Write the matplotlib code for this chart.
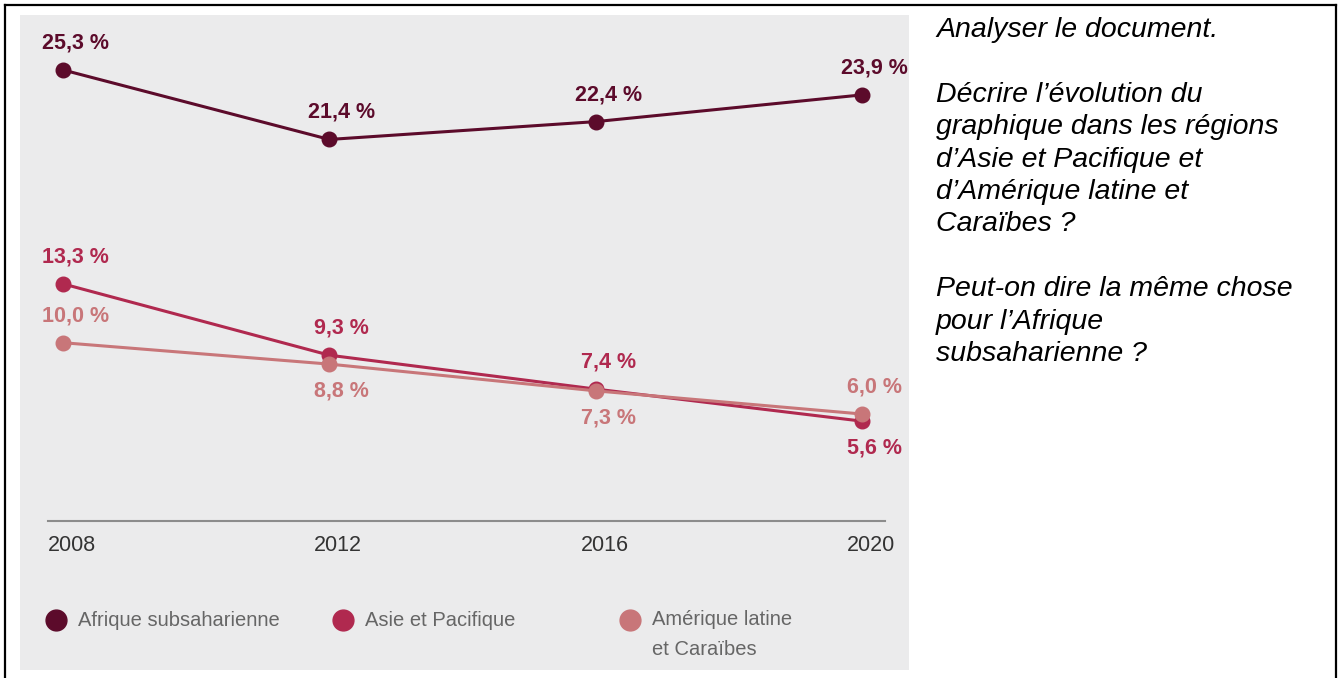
import matplotlib.pyplot as plt
from matplotlib.lines import Line2D
from matplotlib.patches import Rectangle
from matplotlib.transforms import ScaledTranslation

plt.rcParams['font.family'] = ['Liberation Sans', 'DejaVu Sans']

years = [2008, 2012, 2016, 2020]
afrique = [25.3, 21.4, 22.4, 23.9]
asie = [13.3, 9.3, 7.4, 5.6]
amerique = [10.0, 8.8, 7.3, 6.0]
# label above (+1) or below (-1) the point
afrique_pos = [1, 1, 1, 1]
asie_pos = [1, 1, 1, -1]
amerique_pos = [1, -1, -1, 1]
names = ["Afrique subsaharienne", "Asie et Pacifique", "Amérique latine\net Caraïbes"]
colors = ["#5c0b2b", "#b0294f", "#c87679"]

question = ("Analyser le document.\n\n"
            "Décrire l\u2019évolution du\n"
            "graphique dans les régions\n"
            "d\u2019Asie et Pacifique et\n"
            "d\u2019Amérique latine et\n"
            "Caraïbes ?\n\n"
            "Peut-on dire la même chose\n"
            "pour l\u2019Afrique\n"
            "subsaharienne ?")

W, H = 1338, 678
fig = plt.figure(figsize=(W / 100, H / 100), dpi=100)
fig.patch.set_facecolor("white")

# grey panel behind the chart
fig.add_artist(Rectangle((20 / W, 1 - 670 / H), 889 / W, 655 / H,
                         transform=fig.transFigure, facecolor="#ebebec",
                         edgecolor="none", zorder=0))

# black frame (top, left, right)
for xs, ys in [([5 / W, 1336 / W], [1 - 5 / H, 1 - 5 / H]),
               ([5 / W, 5 / W], [0, 1 - 5 / H]),
               ([1336 / W, 1336 / W], [0, 1 - 5 / H])]:
    fig.add_artist(Line2D(xs, ys, transform=fig.transFigure, color="black", lw=1.6))

ax = fig.add_axes([48 / W, 1 - 521 / H, (885 - 48) / W, (521 - 20) / H])
ax.set_facecolor("none")

series = [(afrique, afrique_pos, colors[0]),
          (asie, asie_pos, colors[1]),
          (amerique, amerique_pos, colors[2])]
for vals, pos, c in series:
    ax.plot(years, vals, color=c, lw=2.2, marker="o", markersize=10.5, zorder=3)
    for x, v, p in zip(years, vals, pos):
        ax.annotate(f"{v:.1f} %".replace(".", ","), (x, v), xytext=(9, 19.5 * p),
                    textcoords="offset points", ha="center", va="center",
                    color=c, fontsize=15.5, fontweight="bold")

ax.set_xlim(2007.775, 2020.345)
ax.set_ylim(0, 28.1)
ax.set_yticks([])
ax.set_xticks(years)
ax.set_xticklabels([str(y) for y in years])
ax.tick_params(axis="x", length=0, pad=10, labelsize=15.5, labelcolor="#333333")
for lbl in ax.get_xticklabels():
    lbl.set_transform(lbl.get_transform() + ScaledTranslation(0.09, 0, fig.dpi_scale_trans))
for s in ["top", "left", "right"]:
    ax.spines[s].set_visible(False)
ax.spines["bottom"].set_color("#8c8c8c")
ax.spines["bottom"].set_linewidth(1.5)

# legend drawn by hand
leg_x = [56, 343, 630]
for name, c, lx in zip(names, colors, leg_x):
    fig.add_artist(Line2D([lx / W], [1 - 620 / H], transform=fig.transFigure,
                          marker="o", markersize=15, color=c, lw=0))
    if "\n" in name:
        fig.text((lx + 22) / W, 1 - 610 / H, name, ha="left", va="top",
                 fontsize=14.5, color="#666666", linespacing=1.75)
    else:
        fig.text((lx + 22) / W, 1 - 620 / H, name, ha="left", va="center",
                 fontsize=14.5, color="#666666")

fig.text(936 / W, 1 - 17 / H, question, ha="left", va="top", fontsize=20.5,
         style="italic", color="black", linespacing=1.32)

fig.savefig("out.png", dpi=100)
